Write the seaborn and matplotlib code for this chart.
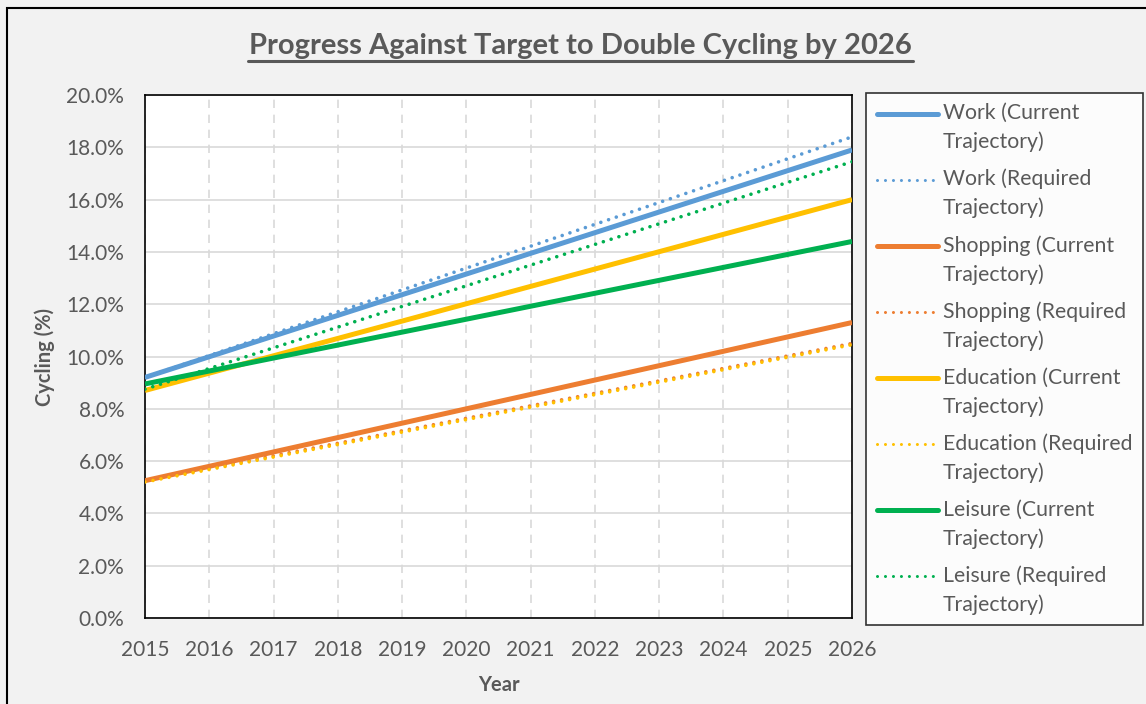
import matplotlib
matplotlib.use("Agg")
import matplotlib.pyplot as plt
import matplotlib.patches as mpatches
import pandas as pd
import seaborn as sns
from matplotlib.legend_handler import HandlerLine2D
from matplotlib.ticker import PercentFormatter, MultipleLocator

# Endpoint values (lines are straight between 2015 and 2026)
years = [2015, 2026]
work_current = [9.2, 17.9]
work_required = [9.2, 18.4]
shopping_current = [5.25, 11.3]
shopping_required = [5.25, 10.5]
education_current = [8.7, 16.0]
education_required = [5.2, 10.45]
leisure_current = [8.95, 14.4]
leisure_required = [8.75, 17.45]

series = [
    ("Work (Current\nTrajectory)", work_current, "#5B9BD5", "solid"),
    ("Work (Required\nTrajectory)", work_required, "#5B9BD5", "dot"),
    ("Shopping (Current\nTrajectory)", shopping_current, "#ED7D31", "solid"),
    ("Shopping (Required\nTrajectory)", shopping_required, "#ED7D31", "dot"),
    ("Education (Current\nTrajectory)", education_current, "#FFC000", "solid"),
    ("Education (Required\nTrajectory)", education_required, "#FFC000", "dot"),
    ("Leisure (Current\nTrajectory)", leisure_current, "#00B050", "solid"),
    ("Leisure (Required\nTrajectory)", leisure_required, "#00B050", "dot"),
]


class TopHandler(HandlerLine2D):
    # put the legend sample next to the first text line, like Excel does
    def create_artists(self, *args, **kwargs):
        artists = super().create_artists(*args, **kwargs)
        for a in artists:
            a.set_ydata([y + 10.5 for y in a.get_ydata()])
        return artists


sns.set_theme(style="white")
plt.rcParams["font.family"] = ["Lato", "DejaVu Sans"]
grey = "#595959"

fig = plt.figure(figsize=(11.46, 7.04), dpi=100, facecolor="#F2F2F2")
ax = fig.add_axes([0.1265, 0.1222, 0.617, 0.7428])
ax.set_facecolor("white")

handles = []
for label, vals, color, kind in series:
    df = pd.DataFrame({"year": years, "value": vals})
    if kind == "solid":
        sns.lineplot(data=df, x="year", y="value", ax=ax, color=color,
                     linewidth=3.6, solid_capstyle="butt", zorder=3)
        h = plt.Line2D([], [], color=color, linewidth=3.6,
                       solid_capstyle="round", label=label)
    else:
        sns.lineplot(data=df, x="year", y="value", ax=ax, color=color,
                     linewidth=2.6, linestyle=(0, (0.01, 2.25)),
                     dash_capstyle="round", zorder=3)
        h = plt.Line2D([], [], color=color, linewidth=2.2,
                       linestyle=(0, (0.01, 2.6)), dash_capstyle="round",
                       label=label)
    handles.append(h)

ax.set_xlim(2015, 2026)
ax.set_ylim(0, 20)
ax.xaxis.set_major_locator(MultipleLocator(1))
ax.yaxis.set_major_locator(MultipleLocator(2))
ax.yaxis.set_major_formatter(PercentFormatter(decimals=1))
ax.grid(axis="y", color="#D9D9D9", linewidth=1.2, linestyle="-", zorder=0)
ax.grid(axis="x", color="#D9D9D9", linewidth=1.2, linestyle=(0, (5, 4)), zorder=0)
ax.set_axisbelow(True)
for s in ax.spines.values():
    s.set_color("black")
    s.set_linewidth(1.2)
ax.tick_params(axis="both", colors=grey, labelsize=15, length=0)
ax.tick_params(axis="x", pad=16)
ax.tick_params(axis="y", pad=15)
ax.set_xlabel("Year", fontsize=14.5, fontweight="bold", color=grey, labelpad=10.5)
ax.set_ylabel("Cycling (%)", fontsize=14.5, fontweight="bold", color=grey, labelpad=8)

fig.text(0.5068, 0.935, "Progress Against Target to Double Cycling by 2026",
         ha="center", va="center", fontsize=21, fontweight="bold", color=grey)
title_underline = plt.Line2D([0.216, 0.797], [0.913, 0.913], transform=fig.transFigure,
                             color=grey, linewidth=2.2)
fig.add_artist(title_underline)

leg = fig.legend(handles=handles, loc="upper left", bbox_to_anchor=(0.7557, 0.8685),
                 handler_map={plt.Line2D: TopHandler()},
                 frameon=True, fontsize=15.3, labelcolor=grey, handlelength=2.9,
                 handletextpad=0.22, labelspacing=0.79, borderpad=0.5,
                 borderaxespad=0, fancybox=False, edgecolor="black", facecolor="white")
leg.get_frame().set_linewidth(1.2)
for t in leg.get_texts():
    t.set_linespacing(1.5)

border = mpatches.Rectangle((0.0061, -0.2), 1.2, 1.1886, transform=fig.transFigure,
                            fill=False, edgecolor="black", linewidth=1.5)
fig.add_artist(border)

fig.savefig("out.png", dpi=100, facecolor=fig.get_facecolor())
